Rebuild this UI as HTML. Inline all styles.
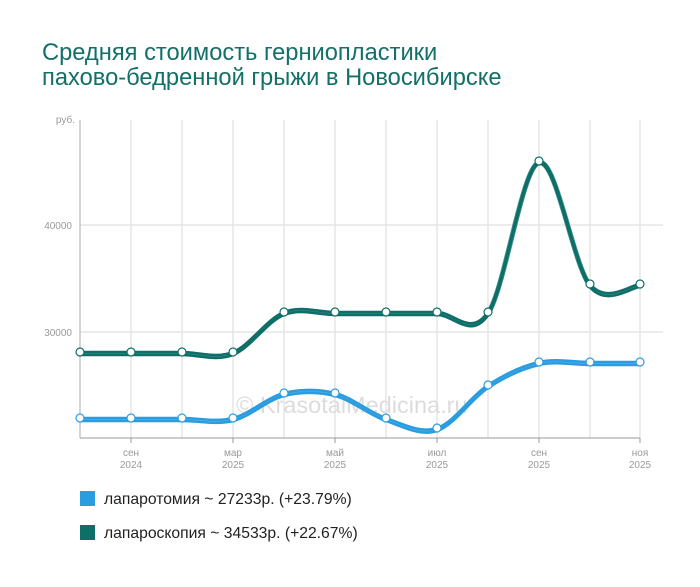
<!DOCTYPE html>
<html><head><meta charset="utf-8"><style>
body{margin:0;background:#fff;width:700px;height:582px;overflow:hidden;font-family:"Liberation Sans",sans-serif}
</style></head><body>
<svg width="700" height="582" xmlns="http://www.w3.org/2000/svg" font-family="Liberation Sans, sans-serif">
<text x="42" y="60" font-size="23.7" fill="#137068">Средняя стоимость герниопластики</text>
<text x="42" y="85" font-size="23.7" fill="#137068">пахово-бедренной грыжи в Новосибирске</text>
<g stroke="#d8d8d8" stroke-width="1">
<line x1="131" y1="120" x2="131" y2="438"/><line x1="182" y1="120" x2="182" y2="438"/><line x1="233" y1="120" x2="233" y2="438"/><line x1="284" y1="120" x2="284" y2="438"/><line x1="335" y1="120" x2="335" y2="438"/><line x1="386" y1="120" x2="386" y2="438"/><line x1="437" y1="120" x2="437" y2="438"/><line x1="488" y1="120" x2="488" y2="438"/><line x1="539" y1="120" x2="539" y2="438"/><line x1="590" y1="120" x2="590" y2="438"/><line x1="640" y1="120" x2="640" y2="438"/>
</g>
<g stroke="#e6e6e6" stroke-width="1.5"><line x1="80" y1="225" x2="663" y2="225"/><line x1="80" y1="332" x2="663" y2="332"/></g>
<line x1="80" y1="120" x2="80" y2="438" stroke="#aaa"/>
<line x1="80" y1="438" x2="640" y2="438" stroke="#999"/>
<g stroke="#999"><line x1="131" y1="438" x2="131" y2="443"/><line x1="233" y1="438" x2="233" y2="443"/><line x1="335" y1="438" x2="335" y2="443"/><line x1="437" y1="438" x2="437" y2="443"/><line x1="539" y1="438" x2="539" y2="443"/><line x1="640" y1="438" x2="640" y2="443"/></g>
<g font-size="10" fill="#999" text-anchor="end"><text x="75" y="123">руб.</text><text x="72" y="229">40000</text><text x="72" y="336">30000</text></g>
<g font-size="10" fill="#999" text-anchor="middle">
<text x="131" y="456">сен</text><text x="131" y="468">2024</text>
<text x="233" y="456">мар</text><text x="233" y="468">2025</text>
<text x="335" y="456">май</text><text x="335" y="468">2025</text>
<text x="437" y="456">июл</text><text x="437" y="468">2025</text>
<text x="539" y="456">сен</text><text x="539" y="468">2025</text>
<text x="640" y="456">ноя</text><text x="640" y="468">2025</text>
</g>
<text x="236" y="413" font-size="23.5" fill="#dcdcdc">© KrasotaiMedicina.ru</text>
<defs>
<path id="p1" d="M80,352 C88.5,352 114,352 131,352 C148,352 165,352 182,352 C199,352 216,358.7 233,352 C250,345.3 267,318.7 284,312 C301,305.3 318,312 335,312 C352,312 369,312 386,312 C403,312 420,312 437,312 C454,312 471,337.2 488,312 C505,286.8 522,165.7 539,161 C556,156.3 573.2,263.5 590,284 C606.8,304.5 631.7,284 640,284"/>
<path id="p2" d="M80,418 C88.5,418 114,418 131,418 C148,418 165,418 182,418 C199,418 216,422.2 233,418 C250,413.8 267,397.2 284,393 C301,388.8 318,388.8 335,393 C352,397.2 369,412.2 386,418 C403,423.8 420,433.5 437,428 C454,422.5 471,396 488,385 C505,374 522,365.8 539,362 C556,358.2 573,362 590,362 C606.8,362 631.7,362 640,362"/>
</defs>
<g fill="none">
<use href="#p1" stroke="#3d8f88" stroke-width="5" transform="translate(0,1.5)"/>
<use href="#p1" stroke="#0e6e68" stroke-width="2.5"/>
<use href="#p1" stroke="#0e6e68" stroke-width="2.5" transform="translate(0,3)"/>
<use href="#p2" stroke="#5ab4ea" stroke-width="5" transform="translate(0,1.5)"/>
<use href="#p2" stroke="#2a9de0" stroke-width="2.5"/>
<use href="#p2" stroke="#2a9de0" stroke-width="2.5" transform="translate(0,3)"/>
</g>
<g fill="#fff" stroke="#0e6e68" stroke-width="1.2">
<circle cx="80" cy="352" r="4"/><circle cx="131" cy="352" r="4"/><circle cx="182" cy="352" r="4"/><circle cx="233" cy="352" r="4"/><circle cx="284" cy="312" r="4"/><circle cx="335" cy="312" r="4"/><circle cx="386" cy="312" r="4"/><circle cx="437" cy="312" r="4"/><circle cx="488" cy="312" r="4"/><circle cx="539" cy="161" r="4"/><circle cx="590" cy="284" r="4"/><circle cx="640" cy="284" r="4"/>
</g>
<g fill="#fff" stroke="#2a9de0" stroke-width="1.2">
<circle cx="80" cy="418" r="4"/><circle cx="131" cy="418" r="4"/><circle cx="182" cy="418" r="4"/><circle cx="233" cy="418" r="4"/><circle cx="284" cy="393" r="4"/><circle cx="335" cy="393" r="4"/><circle cx="386" cy="418" r="4"/><circle cx="437" cy="428" r="4"/><circle cx="488" cy="385" r="4"/><circle cx="539" cy="362" r="4"/><circle cx="590" cy="362" r="4"/><circle cx="640" cy="362" r="4"/>
</g>
<rect x="80" y="491" width="15" height="15" fill="#2a9de0"/>
<text x="104" y="504" font-size="15.7" fill="#222">лапаротомия ~ 27233р. (+23.79%)</text>
<rect x="80" y="525" width="15" height="15" fill="#0e6e68"/>
<text x="104" y="538" font-size="15.7" fill="#222">лапароскопия ~ 34533р. (+22.67%)</text>
</svg>
</body></html>
